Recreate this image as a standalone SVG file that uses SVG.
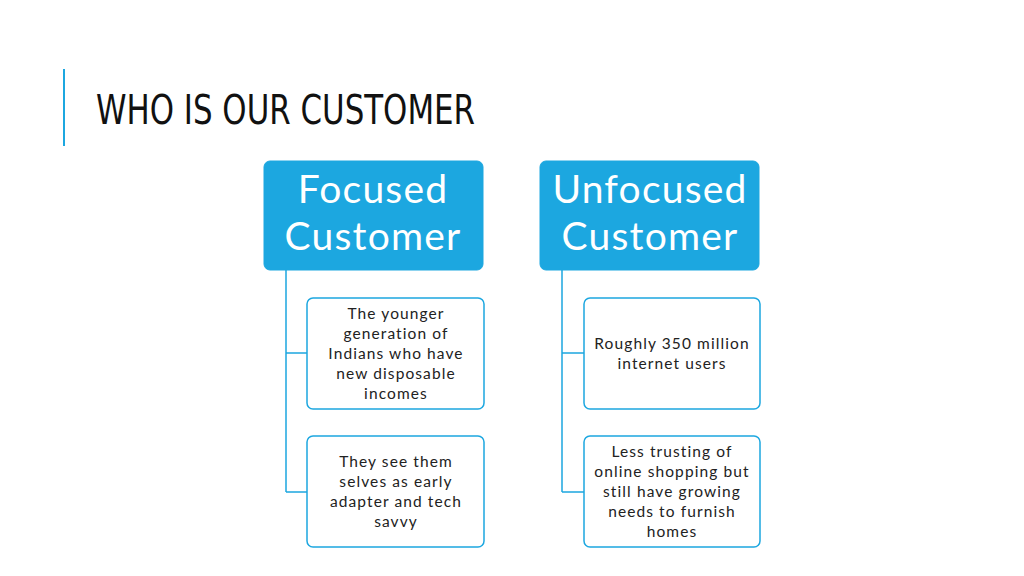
<svg xmlns="http://www.w3.org/2000/svg" width="1024" height="576" viewBox="0 0 1024 576">
<style>
.hdr{fill:#1ca7e0;stroke:#1ca7e0}
.ht{fill:#fff;font-family:Lato,"Open Sans",sans-serif;font-size:39px;letter-spacing:1.2px;text-anchor:middle}
.box{fill:#fff;stroke:#1ca7e0;stroke-width:1.5}
.bt{fill:#222;font-family:Lato,"Open Sans",sans-serif;font-size:15.5px;letter-spacing:1.1px;text-anchor:middle}
.con{fill:none;stroke:#1ca7e0;stroke-width:1.5}
</style>
<rect width="1024" height="576" fill="#fff"/>
<line x1="64" y1="69" x2="64" y2="146" stroke="#1ca7e0" stroke-width="2"/>
<text x="96" y="124" font-family="'DejaVu Sans',sans-serif" font-stretch="condensed" font-size="40" fill="#111" textLength="379" lengthAdjust="spacingAndGlyphs">WHO IS OUR CUSTOMER</text>
<g id="connectors">
<path class="con" d="M286 270V492M286 353H307M286 492H307"/>
<path class="con" d="M562 270V492M562 353H584M562 492H584"/>
</g>
<g id="focused"><rect class="hdr" x="264" y="161" width="219" height="109" rx="6"/><text class="ht" x="373" y="203">Focused</text><text class="ht" x="373" y="250">Customer</text></g>
<g id="unfocused"><rect class="hdr" x="540" y="161" width="219" height="109" rx="6"/><text class="ht" x="650" y="203">Unfocused</text><text class="ht" x="650" y="250">Customer</text></g>
<g id="f1"><rect class="box" x="307" y="298" width="177" height="111" rx="6"/><text class="bt" x="396" y="319">The younger</text><text class="bt" x="396" y="339">generation of</text><text class="bt" x="396" y="359">Indians who have</text><text class="bt" x="396" y="379">new disposable</text><text class="bt" x="396" y="399">incomes</text></g>
<g id="f2"><rect class="box" x="307" y="436" width="177" height="111" rx="6"/><text class="bt" x="396" y="467">They see them</text><text class="bt" x="396" y="487">selves as early</text><text class="bt" x="396" y="507">adapter and tech</text><text class="bt" x="396" y="527">savvy</text></g>
<g id="u1"><rect class="box" x="584" y="298" width="176" height="111" rx="6"/><text class="bt" x="672" y="349">Roughly 350 million</text><text class="bt" x="672" y="369">internet users</text></g>
<g id="u2"><rect class="box" x="584" y="436" width="176" height="111" rx="6"/><text class="bt" x="672" y="457">Less trusting of</text><text class="bt" x="672" y="477">online shopping but</text><text class="bt" x="672" y="497">still have growing</text><text class="bt" x="672" y="517">needs to furnish</text><text class="bt" x="672" y="537">homes</text></g>
</svg>
